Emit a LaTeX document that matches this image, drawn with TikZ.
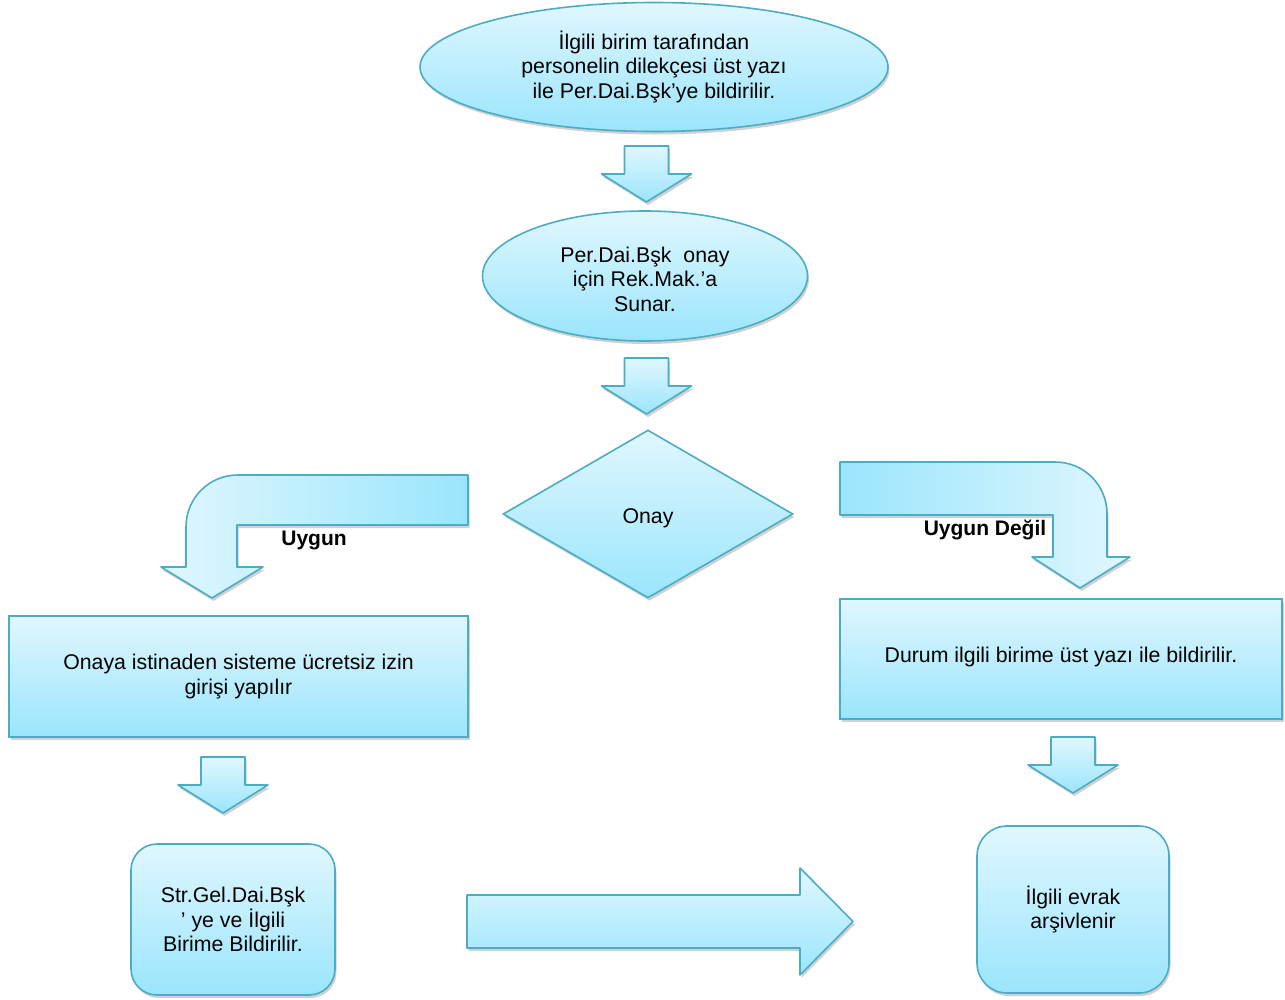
\documentclass[tikz,border=0pt]{standalone}
\usepackage{fontspec}
\setmainfont{Liberation Sans}
\usetikzlibrary{shapes.geometric,shadows}

\definecolor{kenar}{RGB}{75,172,198}
\definecolor{acik}{RGB}{224,247,254}
\definecolor{koyu}{RGB}{154,229,252}

\tikzset{
  kutu/.style={draw=kenar, line width=1.6pt, top color=acik, bottom color=koyu,
    drop shadow={shadow xshift=1.5pt, shadow yshift=-3pt, opacity=.3, fill=black!60},
    align=center, inner sep=0pt, font=\fontsize{21.3}{24.5}\selectfont},
  okgovde/.style={draw=kenar, line width=1.6pt, line join=round,
    drop shadow={shadow xshift=1.5pt, shadow yshift=-3pt, opacity=.3, fill=black!60}},
  blok/.style={okgovde, top color=acik, bottom color=koyu},
  etiket/.style={font=\bfseries\fontsize{21}{24}\selectfont}
}

\begin{document}
\begin{tikzpicture}[x=1pt, y=-1pt]
  \useasboundingbox (0,0) rectangle (1285,999);
  %%% Dugumler
  \node[kutu, ellipse, minimum width=468pt, minimum height=129pt] (dilekce) at (654,67)
    {İlgili birim tarafından\\personelin dilekçesi üst yazı\\ile Per.Dai.Bşk’ye bildirilir.};
  \node[kutu, ellipse, minimum width=325pt, minimum height=130pt] (sunar) at (645,276)
    {\raisebox{14pt}[0pt][0pt]{\begin{tabular}[t]{@{}c@{}}Per.Dai.Bşk\ \ onay\\için Rek.Mak.’a\\Sunar.\end{tabular}}};
  \node[kutu, diamond, minimum width=290pt, minimum height=168pt, aspect=1.73] (onay) at (648,514)
    {\raisebox{-9pt}[0pt][0pt]{Onay}};
  \node[kutu, rectangle, minimum width=459pt, minimum height=121pt] (giris) at (238.5,676.5)
    {Onaya istinaden sisteme ücretsiz izin\\girişi yapılır};
  \node[kutu, rectangle, minimum width=442pt, minimum height=120pt] (durum) at (1061,659)
    {\raisebox{-3pt}[0pt][0pt]{Durum ilgili birime üst yazı ile bildirilir.}};
  \node[kutu, rectangle, rounded corners=26pt, minimum width=204pt, minimum height=151pt] (bildir) at (233,919.5)
    {Str.Gel.Dai.Bşk\\’ ye ve İlgili\\Birime Bildirilir.};
  \node[kutu, rectangle, rounded corners=30pt, minimum width=192pt, minimum height=167pt] (arsiv) at (1073,909.5)
    {İlgili evrak\\arşivlenir};

  %%% Asagi oklar
  \foreach \cx/\cy in {646.5/146, 646.5/358, 223/757, 1073/737}
  {
    \draw[blok, shift={(\cx,\cy)}] (-22,0) -- (22,0) -- (22,28) -- (45,28) -- (0,56)
      -- (-45,28) -- (-22,28) -- cycle;
  }

  %%% Uygun
  \draw[okgovde, left color=acik, right color=koyu]
    (468,475) -- (238,475) .. controls (209,475) and (186,498) .. (186,527) -- (186,567) -- (161,567)
    -- (212,598) -- (263,567) -- (237,567) -- (237,525) -- (468,525) -- cycle;
  \node[etiket] (uygun) at (314,540) {Uygun};

  %%% Uygun Degil
  \draw[okgovde, left color=koyu, right color=acik]
    (840,462) -- (1055,462) .. controls (1084,462) and (1107,485) .. (1107,514) -- (1107,557) -- (1130,557)
    -- (1080,588) -- (1032,557) -- (1053,557) -- (1053,515) -- (840,515) -- cycle;
  \node[etiket] (degil) at (985,529.5) {Uygun Değil};

  %%% Saga ok
  \draw[blok] (467,895) -- (800,895) -- (800,868) -- (853,921.5) -- (800,975)
    -- (800,948) -- (467,948) -- cycle;
\end{tikzpicture}
\end{document}
